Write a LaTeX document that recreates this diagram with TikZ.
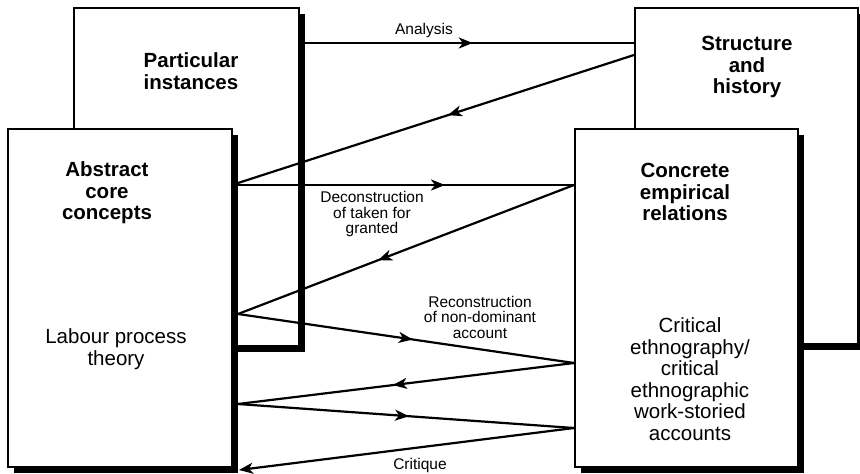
\documentclass[tikz,border=0pt]{standalone}
\usepackage{fontspec}
\setmainfont{Liberation Sans}
\usetikzlibrary{arrows.meta,decorations.markings,shadows}
\begin{document}
\begin{tikzpicture}[x=1pt,y=-1pt,
  boxstyle/.style={draw=black, line width=2pt, fill=white, rectangle, inner sep=0pt,
    anchor=north west,
    general shadow={fill=black, shadow xshift=6pt, shadow yshift=-6pt}},
  bigtext/.style={font=\fontsize{20.5}{21.5}\selectfont, align=center, inner sep=0pt},
  titletext/.style={font=\fontsize{20.5}{21.5}\selectfont\bfseries, align=center, inner sep=0pt},
  labtext/.style={font=\fontsize{15.5}{15.5}\selectfont, align=center, inner sep=0pt},
  conn/.style={line width=2.2pt},
  midarrow/.style={postaction={decorate}, decoration={markings,
    mark=at position #1 with {\arrow{Stealth[length=14pt,width=11pt,inset=4pt]}}}}
]
\useasboundingbox (0,0) rectangle (860,474);

% boxes
\node[boxstyle, minimum width=225pt, minimum height=338pt] (pi) at (73,7) {};
\node[boxstyle, minimum width=223pt, minimum height=336pt] (sh) at (634,7) {};
\node[boxstyle, minimum width=224pt, minimum height=338pt] (abs) at (7,128) {};
\node[boxstyle, minimum width=223pt, minimum height=338pt] (con) at (574,128) {};

% box texts
\node[titletext] (pit) at (191,71) {Particular\\instances};
\node[titletext] (sht) at (747,67) {Structure\\and\\history};
\node[titletext] (abst) at (107,193) {Abstract\\core\\concepts};
\node[bigtext] (lpt) at (116,349) {Labour process\\theory};
\node[titletext] (cont) at (685,192) {Concrete\\empirical\\relations};
\node[bigtext] (cet) at (690,379) {Critical\\ethnography/\\critical\\ethnographic\\work-storied\\accounts};

% connector end points
\coordinate (p1) at (305,43);
\coordinate (s1) at (634,43);
\coordinate (s2) at (634,55);
\coordinate (a1) at (238,183);
\coordinate (a2) at (238,185);
\coordinate (c1) at (574,185);
\coordinate (a3) at (238,314);
\coordinate (c2) at (574,363);
\coordinate (a4) at (238,404);
\coordinate (c3) at (574,428);
\coordinate (a5) at (239,470);

% connectors
\draw[conn, midarrow=0.51] (p1) -- (s1);
\draw[conn, midarrow=0.47] (s2) -- (a1);
\draw[conn, midarrow=0.616] (a2) -- (c1);
\draw[conn, midarrow=0.583] (c1) -- (a3);
\draw[conn, midarrow=0.52] (a3) -- (c2);
\draw[conn, midarrow=0.539] (c2) -- (a4);
\draw[conn, midarrow=0.509] (a4) -- (c3);
\draw[conn, -{Stealth[length=14pt,width=11pt,inset=4pt]}] (c3) -- (a5);

% connector labels
\node[labtext] (lab1) at (424,30) {Analysis};
\node[labtext] (lab2) at (372,214) {Deconstruction\\of taken for\\granted};
\node[labtext] (lab3) at (480,317) {Reconstruction\\of non-dominant\\account};
\node[labtext] (lab4) at (420,465) {Critique};
\end{tikzpicture}
\end{document}
